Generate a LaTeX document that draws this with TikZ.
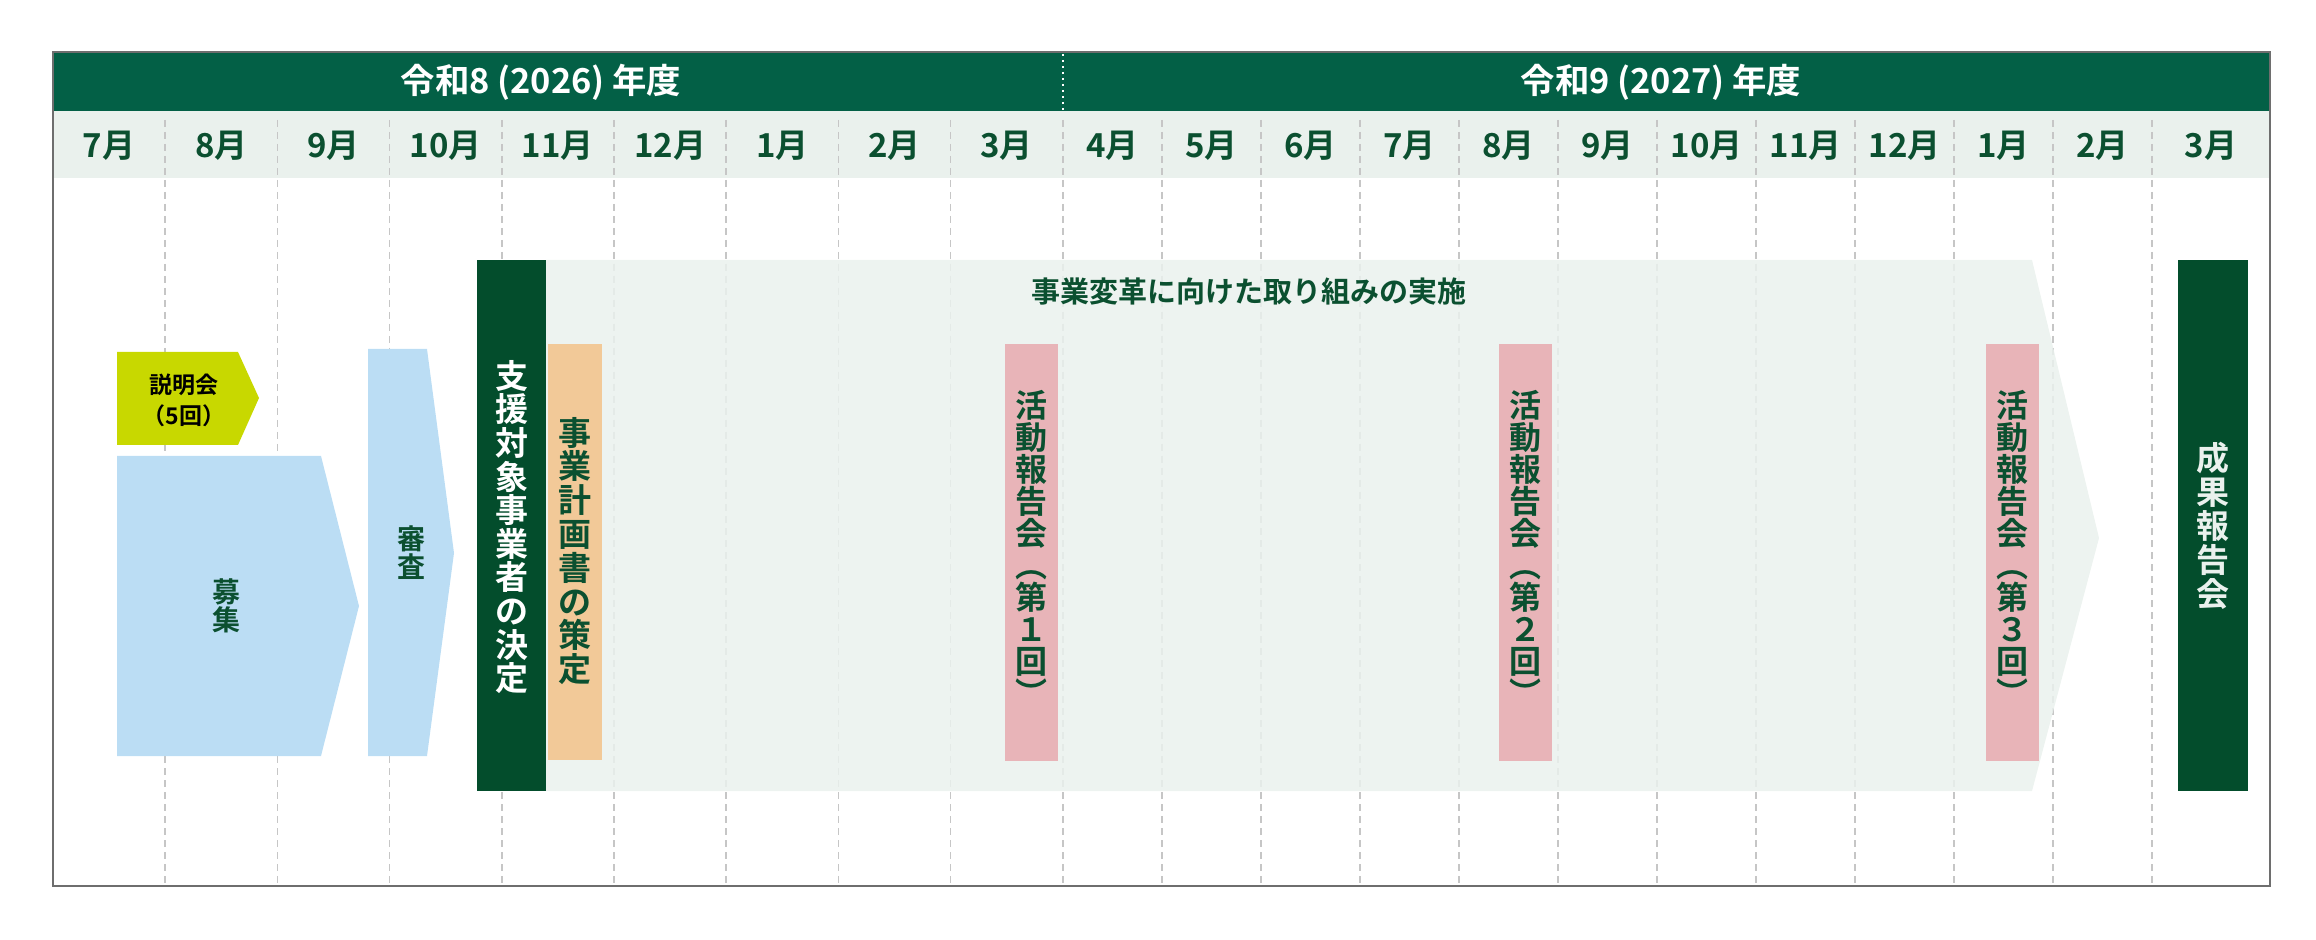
\documentclass[tikz,border=0pt]{standalone}
\usepackage{fontspec}
\setmainfont{Noto Sans CJK JP}[BoldFont={Noto Sans CJK JP Bold}]
\usetikzlibrary{positioning}

\definecolor{hdgreen}{HTML}{036046}
\definecolor{dkgreen}{HTML}{034D2C}
\definecolor{txtgreen}{HTML}{0B5030}
\definecolor{paleband}{HTML}{EAF1ED}
\definecolor{skyblue}{HTML}{BBDDF4}
\definecolor{lime}{HTML}{C8D800}
\definecolor{apricot}{HTML}{F2C998}
\definecolor{rosy}{HTML}{E8B4B8}
\definecolor{framegray}{HTML}{6E6E6E}

\begin{document}
\begin{tikzpicture}[x=0.5pt, y=-0.5pt,
	yearhead/.style = {font=\fontsize{17.2}{17.2}\selectfont\bfseries, text=white},
	month/.style    = {font=\fontsize{16.5}{16.5}\selectfont\bfseries, text=txtgreen},
	vlabel/.style   = {align=center, inner sep=0pt, font=\fontsize{16}{16}\selectfont\bfseries, text=txtgreen},
	grid line/.style= {draw=gray!45, line width=0.8pt, dash pattern=on 3.5pt off 2.5pt},
	]
	
	\useasboundingbox (0,0) rectangle (2316,940);
	
	% bands
	\fill[hdgreen] (53,52) rectangle (2270,111);
	\fill[paleband] (53,111) rectangle (2270,178);
	\draw[white, line width=0.8pt, dash pattern=on 1pt off 2pt] (1063,54) -- (1063,110);
	
	\node[yearhead] (year1) at (541,82) {令和8 (2026) 年度};
	\node[yearhead] (year2) at (1661,82) {令和9 (2027) 年度};
	
	\foreach \m [count=\i from 0] in {7,8,9,10,11,12,1,2,3}
	\node[month] (ma\i) at ({53+112.2*(\i+0.5)},146) {\m{}月};
	
	\foreach \m [count=\i from 0] in {4,5,6,7,8,9,10,11,12,1,2}
	\node[month] (mb\i) at ({1063+99*(\i+0.5)},146) {\m{}月};
	\node[month] (mb11) at (2211,146) {3月};
	
	% month lines
	\foreach \k in {1,...,9}
	\draw[grid line] ({53+112.2*\k},120) -- ({53+112.2*\k},884);
	\foreach \k in {1,...,11}
	\draw[grid line] ({1063+99*\k},120) -- ({1063+99*\k},884);
	
	% application phase
	\fill[lime] (117,352) -- (238,352) -- (259,398) -- (238,445) -- (117,445) -- cycle;
	\node[vlabel, text=black, font=\fontsize{11.5}{15.5}\selectfont\bfseries] (briefing) at (184,400) {説明会\\（5回）};
	
	\fill[skyblue] (117,456) -- (321,456) -- (359,606) -- (321,756) -- (117,756) -- cycle;
	\node[vlabel, font=\fontsize{14}{14}\selectfont\bfseries] (recruit) at (226,606) {募\\集};
	
	\fill[skyblue] (368,349) -- (427,349) -- (454,553) -- (427,756) -- (368,756) -- cycle;
	\node[vlabel, font=\fontsize{14}{14}\selectfont\bfseries] (review) at (411,553) {審\\査};
	
	% support phase
	\fill[paleband, fill opacity=0.85] (546,260) -- (2032,260) -- (2099,538) -- (2032,791) -- (546,791) -- cycle;
	\node[vlabel, font=\fontsize{14.5}{14.5}\selectfont\bfseries] (practice) at (1249,292) {事業変革に向けた取り組みの実施};
	
	\fill[dkgreen] (477,260) rectangle (546,791);
	\node[vlabel, text=white, font=\fontsize{16.5}{16.8}\selectfont\bfseries] (selected) at (511.5,527)
	{支\\援\\対\\象\\事\\業\\者\\の\\決\\定};
	
	\fill[apricot] (548,344) rectangle (602,760);
	\node[vlabel, font=\fontsize{16.5}{16.9}\selectfont\bfseries] (plan) at (575,551)
	{事\\業\\計\\画\\書\\の\\策\\定};
	
	\foreach \x/\n in {1005/１, 1499/２, 1986/３} {
		\fill[rosy] (\x,344) rectangle ({\x+53},761);
		\node[vlabel] (report\n) at ({\x+26.5},548) {活\\動\\報\\告\\会\\︵\\第\\\n\\回\\︶};
	}
	
	\fill[dkgreen] (2178,260) rectangle (2248,791);
	\node[vlabel, text=paleband, font=\fontsize{16.5}{17}\selectfont\bfseries] (final) at (2213,526) {成\\果\\報\\告\\会};
	
	\draw[framegray, line width=1pt] (53,52) rectangle (2270,886);
\end{tikzpicture}
\end{document}
